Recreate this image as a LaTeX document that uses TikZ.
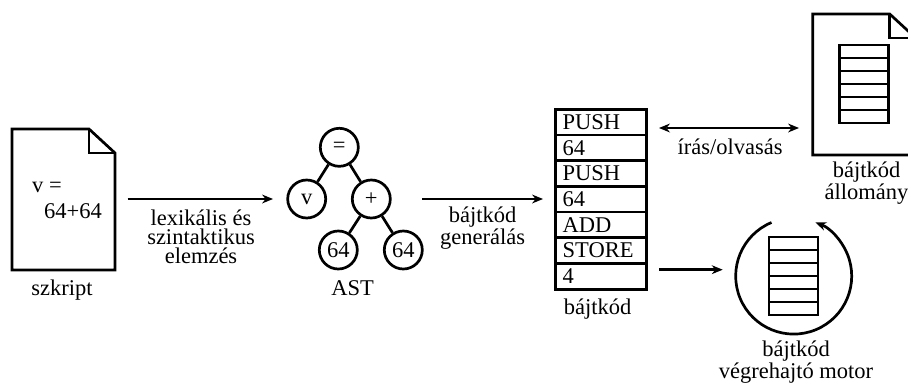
\documentclass[tikz,border=0pt]{standalone}
\usepackage{fontspec}
\setmainfont{Liberation Serif}
\usetikzlibrary{arrows.meta}
\newcommand{\docshape}[2]{%
  \draw[ink,line join=miter] (#1,#2) -- ++(77,0) -- ++(26,24) -- ++(0,117) -- ++(-103,0) -- cycle;
  \draw[ink,line join=miter] (#1+77,#2) -- ++(0,24) -- ++(26,0);}
\newcommand{\stackshape}[2]{%
  \draw[ink] (#1,#2) rectangle ++(49,78);
  \foreach \k in {1,...,5} {\draw[ink] (#1,#2+13*\k) -- ++(49,0);}}
\tikzset{
  ink/.style={line width=2.7pt,black},
  tip/.style={},
  flow/.style={ink,-{Stealth[length=11pt,width=9pt,inset=3.5pt,line width=0pt]}},
  bothflow/.style={ink,{Stealth[length=11pt,width=9pt,inset=3.5pt,line width=0pt]}-{Stealth[length=11pt,width=9pt,inset=3.5pt,line width=0pt]}},
  tnode/.style={circle,draw,ink,minimum size=38pt,inner sep=0pt},
  cell/.style={draw,ink,rectangle,outer sep=0pt,minimum width=91pt,text width=77pt,inner xsep=7pt,inner ysep=0pt,text height=20pt,text depth=5.7pt,align=left,anchor=north west},
  lab/.style={anchor=base,inner sep=0pt,align=center},
}
\begin{document}
\begin{tikzpicture}[x=1pt,y=-1pt,font=\fontsize{22.5}{19}\selectfont]
\useasboundingbox (0,0) rectangle (908,383);
% script document
\docshape{12}{129}
\node[lab,anchor=base west] (vtext) at (32,192.7) {v =};
\node[lab,anchor=base west] (sumtext) at (44,218) {64+64};
\node[lab] (szkript) at (62,295) {szkript};
% parser arrow
\coordinate (a1s) at (127.7,199);
\coordinate (a1e) at (273,199);
\draw[flow] (a1s) -- (a1e);
\node[lab] (lex) at (201,263) {lexikális és\\szintaktikus\\elemzés};
% AST
\node[tnode] (eq) at (339.3,147.3) {=};
\node[tnode] (v) at (306.7,199) {v};
\node[tnode] (plus) at (371.3,199) {+};
\node[tnode] (l) at (338.3,250) {64};
\node[tnode] (r) at (403.3,250) {64};
\draw[ink] (eq) -- (v);
\draw[ink] (eq) -- (plus);
\draw[ink] (plus) -- (l);
\draw[ink] (plus) -- (r);
\node[lab] (ast) at (352.7,295) {AST};
% codegen arrow
\coordinate (a2s) at (422,199);
\coordinate (a2e) at (543,199);
\draw[flow] (a2s) -- (a2e);
\node[lab] (gen) at (482.7,244) {bájtkód\\generálás};
% bytecode table
\node[cell] (c1) at (555.7,109.3) {PUSH};
\node[cell] (c2) at (555.7,135) {64};
\node[cell] (c3) at (555.7,160.7) {PUSH};
\node[cell] (c4) at (555.7,186.4) {64};
\node[cell] (c5) at (555.7,212.1) {ADD};
\node[cell] (c6) at (555.7,237.8) {STORE};
\node[cell] (c7) at (555.7,263.5) {4};
\node[lab] (bc) at (597.7,314) {bájtkód};
% read/write arrow
\coordinate (a3s) at (659,128);
\coordinate (a3e) at (799,128);
\draw[bothflow] (a3s) -- (a3e);
\node[lab] (rw) at (730,154) {írás/olvasás};
% bytecode file
\begin{scope}
\clip (800,0) rectangle (908,383);
\docshape{812.7}{14}
\end{scope}
\stackshape{839.5}{45}
\node[lab] (file) at (866.5,199) {bájtkód\\állomány};
% engine arrow
\coordinate (a4s) at (659,269.7);
\coordinate (a4e) at (722.7,269.7);
\draw[flow] (a4s) -- (a4e);
% engine
\stackshape{769}{237}
\coordinate (arcs) at (771.5,222.5);
\draw[flow] (arcs) arc[start angle=112.5,end angle=428,radius=58pt];
\node[lab] (motor) at (796,378) {bájtkód\\végrehajtó motor};
\end{tikzpicture}
\end{document}
